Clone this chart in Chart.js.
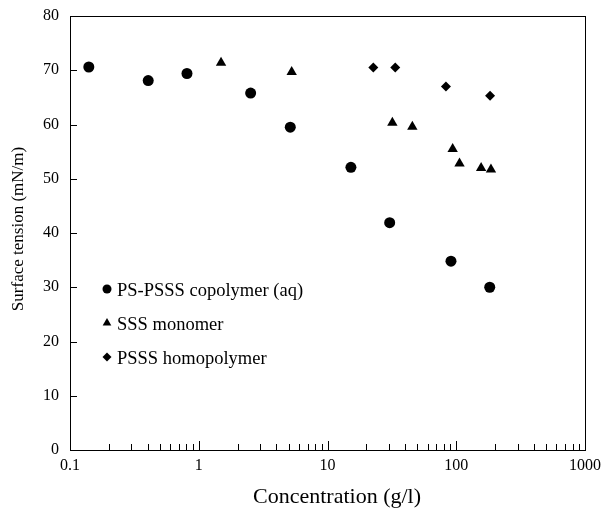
<!DOCTYPE html>
<html>
<head>
<meta charset="utf-8">
<script src="https://cdn.jsdelivr.net/npm/chart.js@4"></script>
<style>
  html, body { margin: 0; padding: 0; background: #fff; }
  #wrap { width: 604px; height: 508px; }
</style>
</head>
<body>
<div id="wrap"><canvas id="chart" width="604" height="508"></canvas></div>
<script>
// values
const copolymerX = [0.14, 0.405, 0.81, 2.53, 5.14, 15.2, 30.4, 91, 182];
const copolymerY = [70.6, 68.1, 69.4, 65.8, 59.5, 52.1, 41.9, 34.8, 30.0];
const monomerX = [1.49, 5.27, 31.9, 45.6, 93.8, 106, 156, 186];
const monomerY = [71.4, 69.7, 60.3, 59.6, 55.5, 52.8, 52.0, 51.7];
const homopolymerX = [22.7, 33.6, 83.2, 183];
const homopolymerY = [70.5, 70.5, 67.0, 65.3];
const xTicks = [0.1, 1, 10, 100, 1000];
const xTickLabels = ["0.1", "1", "10", "100", "1000"];
const yTicks = [0, 10, 20, 30, 40, 50, 60, 70, 80];
const seriesNames = ["PS-PSSS copolymer (aq)", "SSS monomer", "PSSS homopolymer"];
const xTitle = "Concentration (g/l)";
const yTitle = "Surface tension (mN/m)";

const FONT = "'Liberation Serif', 'Times New Roman', serif";

function pts(xs, ys) {
  return xs.map((x, i) => ({ x: x, y: ys[i] }));
}

// inward ticks, tick labels, frame, axis titles and in-plot legend
const framePlugin = {
  id: "frame",
  afterDraw(c) {
    const ctx = c.ctx;
    const a = c.chartArea;
    const xs = c.scales.x, ys = c.scales.y;
    ctx.save();
    ctx.strokeStyle = "#000";
    ctx.lineWidth = 1;
    ctx.strokeRect(a.left + 0.5, a.top + 0.5, a.right - a.left, a.bottom - a.top);

    ctx.beginPath();
    for (let d = 0.1; d < 1000; d *= 10) {
      for (let m = 1; m < 10; m++) {
        const px = Math.round(xs.getPixelForValue(d * m)) + 0.5;
        const len = m === 1 ? 9 : 6;
        ctx.moveTo(px, a.bottom);
        ctx.lineTo(px, a.bottom - len);
      }
    }
    yTicks.forEach(v => {
      const py = Math.round(ys.getPixelForValue(v)) + 0.5;
      ctx.moveTo(a.left, py);
      ctx.lineTo(a.left + 7, py);
    });
    ctx.stroke();

    ctx.fillStyle = "#000";
    ctx.textBaseline = "middle";
    ctx.font = "16px " + FONT;

    // tick labels
    ctx.textAlign = "right";
    yTicks.forEach(v => ctx.fillText(String(v), a.left - 11, ys.getPixelForValue(v)));
    ctx.textAlign = "center";
    xTicks.forEach((v, i) => ctx.fillText(xTickLabels[i], xs.getPixelForValue(v), a.bottom + 16));

    // axis titles
    ctx.font = "22px " + FONT;
    ctx.fillText(xTitle, 337, 497);
    ctx.save();
    ctx.translate(19, 229);
    ctx.rotate(-Math.PI / 2);
    ctx.font = "17px " + FONT;
    ctx.fillText(yTitle, 0, 0);
    ctx.restore();

    // legend
    ctx.textAlign = "left";
    const lx = 107, ly = [289, 323, 357];
    const styles = [
      { s: "circle", r: 4.5 },
      { s: "triangle", r: 5 },
      { s: "rectRot", r: 4.5 }
    ];
    ctx.font = "18.5px " + FONT;
    seriesNames.forEach((name, i) => {
      Chart.helpers.drawPoint(ctx, { pointStyle: styles[i].s, radius: styles[i].r, rotation: 0, borderWidth: 0 }, lx, ly[i]);
      ctx.fillText(name, lx + 10, ly[i] + 2);
    });
    ctx.restore();
  }
};

const marker = { backgroundColor: "#000", borderColor: "#000", borderWidth: 0 };

new Chart(document.getElementById("chart"), {
  type: "scatter",
  data: {
    datasets: [
      Object.assign({ label: seriesNames[0], data: pts(copolymerX, copolymerY), pointStyle: "circle", pointRadius: 5.5 }, marker),
      Object.assign({ label: seriesNames[1], data: pts(monomerX, monomerY), pointStyle: "triangle", pointRadius: 6 }, marker),
      Object.assign({ label: seriesNames[2], data: pts(homopolymerX, homopolymerY), pointStyle: "rectRot", pointRadius: 5 }, marker)
    ]
  },
  options: {
    responsive: false,
    animation: false,
    layout: { padding: { top: 16, right: 19, left: 0, bottom: 0 } },
    plugins: { legend: { display: false }, tooltip: { enabled: false } },
    scales: {
      x: {
        type: "logarithmic",
        min: 0.1,
        max: 1000,
        afterBuildTicks: s => { s.ticks = xTicks.map(v => ({ value: v })); },
        afterFit: s => { s.height = 58; },
        grid: { display: false, drawTicks: false },
        border: { display: true, color: "#000" },
        ticks: { display: false },
        title: { display: false }
      },
      y: {
        min: 0,
        max: 80,
        afterBuildTicks: s => { s.ticks = yTicks.map(v => ({ value: v })); },
        afterFit: s => { s.width = 70; },
        grid: { display: false, drawTicks: false },
        border: { display: true, color: "#000" },
        ticks: { display: false },
        title: { display: false }
      }
    }
  },
  plugins: [framePlugin]
});
</script>
</body>
</html>
